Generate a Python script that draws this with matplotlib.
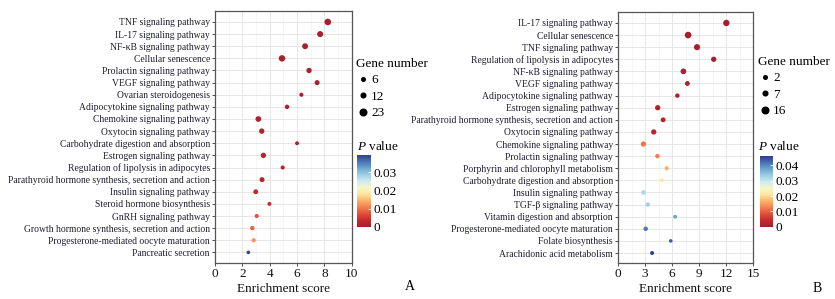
import numpy as np
import matplotlib
matplotlib.use("Agg")
import matplotlib.pyplot as plt
from matplotlib.lines import Line2D
from matplotlib.colors import Normalize, LinearSegmentedColormap

plt.rcParams['font.family'] = ['Liberation Serif', 'DejaVu Serif']
plt.rcParams['mathtext.fontset'] = 'custom'
plt.rcParams['mathtext.rm'] = 'Liberation Serif'
plt.rcParams['mathtext.it'] = 'Liberation Serif:italic'

# ---------------- Data: panel A ----------------
pathways_a = [
    "TNF signaling pathway", "IL-17 signaling pathway", "NF-\u03baB signaling pathway",
    "Cellular senescence", "Prolactin signaling pathway", "VEGF signaling pathway",
    "Ovarian steroidogenesis", "Adipocytokine signaling pathway", "Chemokine signaling pathway",
    "Oxytocin signaling pathway", "Carbohydrate digestion and absorption",
    "Estrogen signaling pathway", "Regulation of lipolysis in adipocytes",
    "Parathyroid hormone synthesis, secretion and action", "Insulin signaling pathway",
    "Steroid hormone biosynthesis", "GnRH signaling pathway",
    "Growth hormone synthesis, secretion and action",
    "Progesterone-mediated oocyte maturation", "Pancreatic secretion",
]
score_a = [8.25, 7.69, 6.59, 4.90, 6.88, 7.47, 6.32, 5.27, 3.17, 3.42,
           6.00, 3.54, 4.95, 3.44, 2.98, 3.98, 3.05, 2.73, 2.83, 2.44]
genes_a = [23, 20, 19, 22, 16, 14, 9, 11, 18, 16,
           8, 16, 9, 14, 13, 8, 9, 11, 9, 6]
pval_a = [0.0001, 0.0002, 0.0003, 0.0004, 0.0005, 0.0006, 0.0008, 0.001, 0.001, 0.001,
          0.0015, 0.002, 0.002, 0.002, 0.003, 0.0035, 0.0075, 0.009, 0.012, 0.0395]
size_breaks_a = [6, 12, 23]
xticks_a = [0, 2, 4, 6, 8, 10]
cbar_ticks_a = [0, 0.01, 0.02, 0.03]

# ---------------- Data: panel B ----------------
pathways_b = [
    "IL-17 signaling pathway", "Cellular senescence", "TNF signaling pathway",
    "Regulation of lipolysis in adipocytes", "NF-\u03baB signaling pathway",
    "VEGF signaling pathway", "Adipocytokine signaling pathway", "Estrogen signaling pathway",
    "Parathyroid hormone synthesis, secretion and action", "Oxytocin signaling pathway",
    "Chemokine signaling pathway", "Prolactin signaling pathway",
    "Porphyrin and chlorophyll metabolism", "Carbohydrate digestion and absorption",
    "Insulin signaling pathway", "TGF-\u03b2 signaling pathway",
    "Vitamin digestion and absorption", "Progesterone-mediated oocyte maturation",
    "Folate biosynthesis", "Arachidonic acid metabolism",
]
score_b = [12.01, 7.77, 8.76, 10.61, 7.25, 7.69, 6.58, 4.40, 5.00, 3.96,
           2.82, 4.37, 5.40, 4.85, 2.82, 3.30, 6.33, 3.07, 5.85, 3.78]
genes_b = [15, 16, 14, 10, 12, 8, 6, 10, 8, 10,
           10, 6, 4, 4, 7, 6, 3, 6, 2, 4]
pval_b = [0.0001, 0.0002, 0.0003, 0.0005, 0.0006, 0.0008, 0.001, 0.0015, 0.002, 0.0025,
          0.0115, 0.0125, 0.016, 0.0215, 0.032, 0.033, 0.038, 0.0415, 0.0435, 0.046]
size_breaks_b = [2, 7, 16]
xticks_b = [0, 3, 6, 9, 12, 15]
cbar_ticks_b = [0, 0.01, 0.02, 0.03, 0.04]

W, H = 835, 299
fig = plt.figure(figsize=(W / 100, H / 100), dpi=100)
cmap = LinearSegmentedColormap.from_list('pv', [
    '#a51f2b', '#c8292f', '#e0503a', '#f47f4f', '#fbb26a', '#fde4a0', '#f5f7c8',
    '#cdebf0', '#9dcfe3', '#6ea6cf', '#4a74b3', '#333d96'])
DARK = '#333333'
TXT = '#1e1e2e'


def px_rect(x0, y0, x1, y1):
    return [x0 / W, 1 - y1 / H, (x1 - x0) / W, (y1 - y0) / H]


def size_fn(n, lo, hi):
    # diameter in px mapped linearly from gene count, converted to points^2
    d = 3.6 + 3.0 * (np.asarray(n, float) - lo) / (hi - lo)
    return (d * 0.72) ** 2


def panel(rect, names, score, genes, pval, breaks, xticks, xminor, cticks,
          leg_xy, cbar_rect, ptitle_xy, letter, letter_xy):
    ax = fig.add_axes(px_rect(*rect))
    y = np.arange(len(names))
    vmax = max(pval)
    norm = Normalize(0, vmax)
    lo, hi = min(breaks), max(breaks)
    sc = ax.scatter(score, y, s=size_fn(genes, lo, hi), c=pval, cmap=cmap, norm=norm,
                    edgecolors='none', zorder=3)
    ax.set_xlim(xticks[0], xticks[-1])
    ax.set_ylim(len(names) - 1 + 0.85, -0.93)
    ax.set_yticks(y)
    ax.set_yticklabels(names, fontsize=6.9, color=TXT)
    ax.set_xticks(xticks)
    ax.set_xticklabels([str(t) for t in xticks], fontsize=9.5, color='#111111')
    ax.set_xticks(xminor, minor=True)
    ax.grid(True, which='major', color='#e6e6e6', lw=0.7, zorder=0)
    ax.grid(True, which='minor', axis='x', color='#efefef', lw=0.4, zorder=0)
    ax.set_axisbelow(True)
    ax.tick_params(axis='both', which='major', length=2.2, width=0.6, color=DARK, pad=1.5)
    ax.tick_params(axis='x', which='minor', length=0)
    for sp in ax.spines.values():
        sp.set_color('#555555')
        sp.set_linewidth(0.9)
    ax.set_xlabel('Enrichment score', fontsize=9.5, color='#111111', labelpad=2)

    # size legend
    handles = [Line2D([], [], ls='none', marker='o', color='black',
                      markersize=np.sqrt(size_fn(b, lo, hi))) for b in breaks]
    leg = fig.legend(handles, [str(b) for b in breaks], title='Gene number',
                     loc='upper left', bbox_to_anchor=(leg_xy[0] / W, 1 - leg_xy[1] / H),
                     frameon=False, fontsize=9.5, title_fontsize=9.5,
                     handletextpad=0.05, handlelength=1.1, labelspacing=0.32,
                     borderpad=0, borderaxespad=0)
    leg._legend_box.align = 'left'

    # colorbar
    cax = fig.add_axes(px_rect(*cbar_rect))
    cb = fig.colorbar(sc, cax=cax)
    cb.outline.set_visible(False)
    cb.set_ticks(cticks)
    cb.set_ticklabels(['0' if t == 0 else f'{t:.2f}' for t in cticks])
    cax.tick_params(labelsize=9.5, length=2.5, color='white', width=0.6, pad=1.5,
                    direction='in')
    fig.text(ptitle_xy[0] / W, 1 - ptitle_xy[1] / H, r'$\it{P}$ value', fontsize=9.5,
             ha='left', va='center')
    fig.text(letter_xy[0] / W, 1 - letter_xy[1] / H, letter, fontsize=10,
             ha='center', va='center')
    return ax


panel((215, 10.7, 351.7, 262.7), pathways_a, score_a, genes_a, pval_a, size_breaks_a,
      xticks_a, np.arange(1, 10, 2), cbar_ticks_a,
      leg_xy=(356, 58), cbar_rect=(357.3, 155, 371, 226.7), ptitle_xy=(357, 146),
      letter='A', letter_xy=(410, 287))

panel((618, 11.7, 753.3, 263.3), pathways_b, score_b, genes_b, pval_b, size_breaks_b,
      xticks_b, np.arange(1.5, 15, 3), cbar_ticks_b,
      leg_xy=(758, 56), cbar_rect=(760, 156.3, 773.3, 226.7), ptitle_xy=(758, 147),
      letter='B', letter_xy=(817, 288))

fig.savefig('out.png', dpi=100)
